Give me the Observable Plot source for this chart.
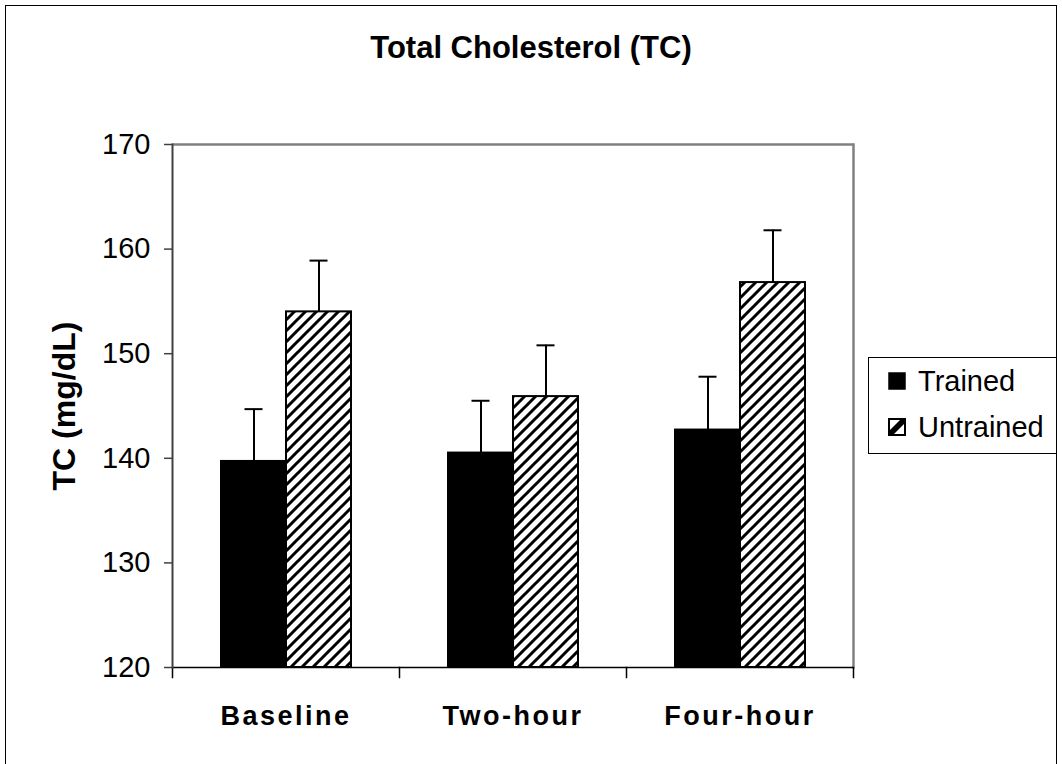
<!DOCTYPE html>
<html>
<head>
<meta charset="utf-8">
<script src="https://cdn.jsdelivr.net/npm/d3@7"></script>
<script src="https://cdn.jsdelivr.net/npm/@observablehq/plot@0.6"></script>
<style>
  body { margin: 0; background: #fff; font-family: "Liberation Sans", Arial, sans-serif; }
  #wrap { position: relative; width: 1062px; height: 764px; overflow: hidden; background: #fff; }
  #border { position: absolute; left: 5px; top: 5px; width: 1052px; height: 820px; border: 1.5px solid #000; box-sizing: border-box; }
  #title { position: absolute; left: 0; top: 32px; width: 1062px; text-align: center; font-weight: bold; font-size: 31px; line-height: 32px; color: #000; }
  #chart { position: absolute; left: 0; top: 0; }
  #legend { position: absolute; left: 868px; top: 357px; width: 189px; height: 97px; border: 1.5px solid #000; box-sizing: border-box; background: #fff; }
  .item { position: absolute; left: 19px; height: 30px; display: flex; align-items: center; font-size: 29px; color: #000; }
  .item svg { margin-right: 12px; }
  svg [aria-label="fx-axis tick label"] text { letter-spacing: 2.5px; }
</style>
</head>
<body>
<svg width="0" height="0" style="position:absolute">
  <defs>
    <pattern id="hatch" patternUnits="userSpaceOnUse" width="11" height="11">
      <rect width="11" height="11" fill="#fff"/>
      <path d="M-2,13 L13,-2 M-2,2 L2,-2 M9,13 L13,9" stroke="#000" stroke-width="3"/>
    </pattern>
  </defs>
</svg>
<div id="wrap">
  <div id="border"></div>
  <div id="chart"></div>
  <div id="title">Total Cholesterol (TC)</div>
  <div id="legend"></div>
</div>
<script>
// ---- data ----
const categories = ["Baseline", "Two-hour", "Four-hour"];
const series = ["Trained", "Untrained"];
const trainedMean = [139.7, 140.5, 142.7];
const trainedErr = [5.0, 5.0, 5.1];
const untrainedMean = [154.0, 145.9, 156.8];
const untrainedErr = [4.9, 4.9, 5.0];
const yTicks = [120, 130, 140, 150, 160, 170];
const yMin = 120;
const yMax = 170;
const yLabel = "TC (mg/dL)";

const rows = categories.flatMap((c, i) => [
  {cat: c, group: series[0], mean: trainedMean[i], err: trainedErr[i]},
  {cat: c, group: series[1], mean: untrainedMean[i], err: untrainedErr[i]}
]);
const trainedRows = rows.filter(d => d.group === series[0]);
const untrainedRows = rows.filter(d => d.group === series[1]);

const chart = Plot.plot({
  width: 1062,
  height: 764,
  marginLeft: 171,
  marginRight: 209,
  marginTop: 144,
  marginBottom: 97,
  style: {fontFamily: "'Liberation Sans', Arial, sans-serif", background: "transparent", color: "#000", overflow: "visible"},
  fx: {domain: categories, padding: 0, axis: null},
  x: {domain: series, paddingInner: 0, paddingOuter: 0.72, axis: null},
  y: {domain: [yMin, yMax], axis: null},
  marks: [
    Plot.ruleY([yMax], {stroke: "#808080", strokeWidth: 2.5}),
    Plot.frame({anchor: "right", facetAnchor: "right", stroke: "#808080", strokeWidth: 2.5}),
    Plot.barY(trainedRows, {fx: "cat", x: "group", y1: yMin, y2: "mean", fill: "#000", stroke: "#000", strokeWidth: 2}),
    Plot.barY(untrainedRows, {fx: "cat", x: "group", y1: yMin, y2: "mean", fill: "url(#hatch)", stroke: "#000", strokeWidth: 2}),
    Plot.ruleX(rows, {fx: "cat", x: "group", y1: "mean", y2: d => d.mean + d.err, stroke: "#000", strokeWidth: 2}),
    Plot.tickY(rows, {fx: "cat", x: "group", y: d => d.mean + d.err, stroke: "#000", strokeWidth: 2, insetLeft: 23.5, insetRight: 23.5}),
    Plot.ruleY([yMin], {stroke: "#000", strokeWidth: 1.5}),
    Plot.frame({anchor: "left", insetTop: 523, insetBottom: -10, stroke: "#000", strokeWidth: 1.5}),
    Plot.frame({anchor: "right", facetAnchor: "right", insetTop: 523, insetBottom: -10, stroke: "#000", strokeWidth: 1.5}),
    Plot.frame({anchor: "left", facetAnchor: "left", stroke: "#404040", strokeWidth: 2}),
    Plot.axisY({anchor: "left", facetAnchor: "left", ticks: yTicks, tickSize: 8, tickPadding: 14, fontSize: 29, stroke: "#404040", strokeWidth: 1.5, tickFormat: d => String(d), label: null}),
    Plot.axisFx({anchor: "bottom", tickSize: 0, tickPadding: 38, fontSize: 27, fontWeight: "bold", label: null}),
    Plot.text([yLabel], {frameAnchor: "left", facetAnchor: "left", textAnchor: "middle", rotate: -90, dx: -108, fontSize: 32, fontWeight: "bold", fill: "#000"})
  ]
});
document.getElementById("chart").appendChild(chart);

// ---- legend ----
const legend = document.getElementById("legend");
const swatches = [
  '<svg width="18" height="18"><rect x="1" y="1" width="16" height="16" fill="#000" stroke="#000" stroke-width="1.5"/></svg>',
  '<svg width="18" height="18"><rect x="1" y="1" width="16" height="16" fill="#fff" stroke="#000" stroke-width="2"/><path d="M1,13 L13,1 L17,1 L17,5 L5,17 L1,17 Z" fill="#000"/></svg>'
];
series.forEach((s, i) => {
  const div = document.createElement("div");
  div.className = "item";
  div.style.top = (8 + i * 46) + "px";
  div.innerHTML = swatches[i] + "<span>" + s + "</span>";
  legend.appendChild(div);
});
</script>
</body>
</html>
